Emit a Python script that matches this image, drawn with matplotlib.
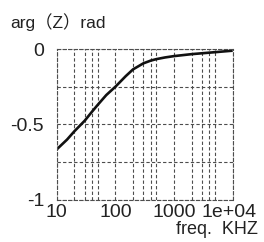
import matplotlib
matplotlib.use("Agg")
import matplotlib.pyplot as plt
import matplotlib.transforms as mtransforms
from matplotlib.ticker import FixedLocator, NullFormatter

# values
freq = [10, 15, 20, 30, 40, 50, 70, 100, 150, 200, 300, 400, 500, 700, 1000, 2000, 5000, 10000]
phase = [-0.665, -0.60, -0.545, -0.475, -0.415, -0.37, -0.305, -0.25, -0.18, -0.135,
         -0.095, -0.077, -0.067, -0.056, -0.047, -0.034, -0.021, -0.011]

xticks = [10, 100, 1000, 10000]
xticklabels = ["10", "100", "1000", "1e+04"]
xminor = [m * 10 ** k for k in range(1, 4) for m in (2, 3, 4, 5)]
yticks = [0, -0.5, -1]
yticklabels = ["0", "-0.5", "-1"]
ygrid = [-0.25, -0.75]

plt.rcParams['font.family'] = ['Liberation Sans', 'Noto Sans CJK JP', 'DejaVu Sans']

fig = plt.figure(figsize=(2.64, 2.42), dpi=100)
ax = fig.add_axes([0.2148, 0.1736, 0.6666, 0.6239])

ax.plot(freq, phase, color="#111111", lw=1.9, solid_capstyle="butt")

ax.set_xscale("log")
ax.set_xlim(10, 10000)
ax.set_ylim(-1, 0)
ax.xaxis.set_major_locator(FixedLocator(xticks))
ax.set_xticklabels(xticklabels)
ax.xaxis.set_minor_locator(FixedLocator(xminor))
ax.xaxis.set_minor_formatter(NullFormatter())
ax.set_yticks(yticks)
ax.set_yticklabels(yticklabels)
ax.yaxis.set_minor_locator(FixedLocator(ygrid))

grid_style = dict(color="#4d4d4d", lw=0.8, ls=(0, (3, 2)))
ax.grid(True, which="both", **grid_style)
for s in ax.spines.values():
    s.set_color("#4d4d4d")
    s.set_linewidth(0.8)
    s.set_linestyle((0, (3, 2)))

ax.tick_params(which="both", length=0, labelsize=14, colors="#222222")
ax.tick_params(axis="x", pad=3)
ax.tick_params(axis="y", pad=9)

# last x label sits a little left of its tick in the reference
last = ax.get_xticklabels()[-1]
last.set_transform(last.get_transform() + mtransforms.ScaledTranslation(-4 / 100, 0, fig.dpi_scale_trans))

fig.text(10 / 264, 1 - 22 / 242, "arg（Z）rad", fontsize=12.5, va="center", ha="left",
         color="#222222")
fig.text(258 / 264, 1 - 230 / 242, "freq.  KHZ", fontsize=13, va="center", ha="right",
         color="#222222")

fig.savefig("out.png", dpi=100)
